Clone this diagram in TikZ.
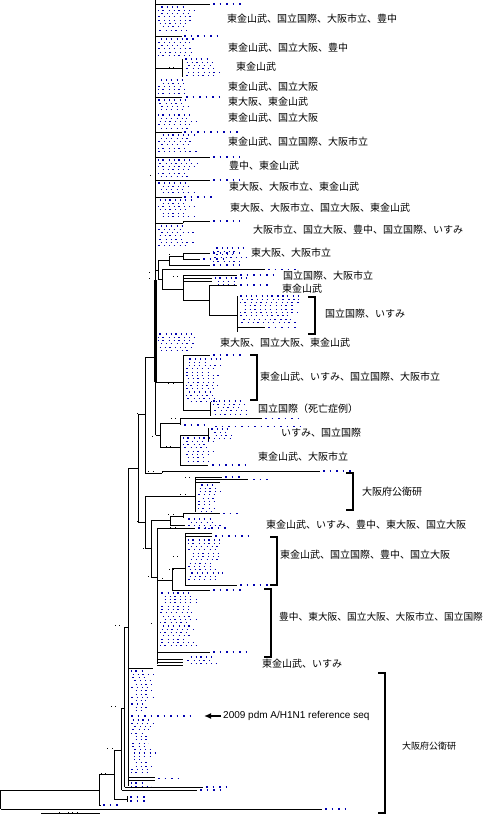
\documentclass[tikz,border=0pt]{standalone}
\usepackage{fontspec}
\newfontfamily\jp{Noto Sans CJK JP}
\newfontfamily\lat{Liberation Sans}
\usetikzlibrary{arrows.meta}
\definecolor{seqblue}{RGB}{0,0,175}
\tikzset{
  br/.style={black, line width=1pt},
  seq/.style={seqblue, line width=1.1pt, dash pattern=on 1.2pt off 3.2pt on 1.6pt off 4.6pt on 1.2pt off 3.8pt},
  dotr/.style={seqblue, line width=1.1pt, dash pattern=on 1.5pt off 5pt},
  lab/.style={font=\jp\fontsize{10}{12}\selectfont, anchor=west, inner sep=0pt},
  brk/.style={black, line width=1.4pt},
}
\newcommand\hl[3]{\draw[br] (#1,#3) -- (#2,#3);}
\newcommand\vl[3]{\draw[br] (#1,#2) -- (#1,#3);}
\newcommand\drow[3]{\draw[dotr] (#1,#3) -- (#2,#3);}
\newcommand\bdot[2]{\fill[black] (#1,#2) rectangle ++(1.3,1.3);}
\newcommand\blk[4]{%
  \pgfmathsetmacro\blkstep{#2+3.3}%
  \foreach \yy in {#2,\blkstep,...,#3}{%
    \pgfmathsetmacro\ph{random(0,6)*1.5}%
    \pgfmathsetmacro\ll{#4+random(-7,5)}%
    \draw[seq, dash phase=\ph pt] (#1,\yy) -- ++(\ll,0);
  }}
\newcommand\brkt[3]{\draw[brk] (#1-7,#2) -- (#1,#2) -- (#1,#3) -- (#1-7,#3);}
\begin{document}
\begin{tikzpicture}[x=1pt,y=-1pt]
\pgfmathsetseed{11}
\fill[white] (0,0) rectangle (488,817);
\useasboundingbox (0,0) rectangle (488,817);

% ---------- backbone ----------
\vl{155.5}{0}{435}
\draw[br, line width=2.4pt] (155.5,280) -- (155.5,382);

% ---------- top leaves ----------
\hl{155.5}{210}{4} \drow{213}{245}{4}
\hl{155.5}{182}{36} \drow{184}{218}{36}
\hl{155.5}{182}{68} \vl{182}{59}{77} \blk{185}{59}{77}{32}
\hl{155.5}{182}{97} \drow{186}{220}{97}
\hl{155.5}{182}{132} \drow{184}{240}{132}
\hl{155.5}{210}{157} \drow{213}{240}{157}
\hl{155.5}{210}{180} \drow{213}{240}{180}
\hl{155.5}{182}{197} \drow{184}{215}{197}
\hl{155.5}{183}{223} \vl{183}{221}{223} \hl{183}{210}{221} \drow{213}{240}{221}
\blk{158}{7}{33}{35}
\blk{158}{39}{56}{35}
\blk{158}{80}{94}{32}
\blk{158}{100}{111}{32}
\blk{158}{115}{129}{35}
\blk{158}{135}{154}{35}
\blk{158}{160}{177}{35}
\blk{158}{183}{194}{32}
\blk{158}{200}{217}{32}
\blk{158}{226}{249}{32}

% ---------- middle subtree ----------
\vl{158.3}{260}{279} \hl{155.5}{158.3}{270}
\hl{158.3}{169}{260} \vl{169}{256}{265}
\hl{169}{183}{256} \vl{183}{253}{259}
\hl{183}{210}{253} \drow{213}{240}{253}
\hl{183}{200}{259} \drow{203}{225}{259}
\hl{169}{210}{265} \drow{213}{240}{265}
\blk{213}{248}{262}{28}
\hl{158.3}{162}{279} \vl{162}{269}{289}
\hl{162}{265}{269.5} \drow{268}{300}{269.5}
\hl{162}{183}{289} \vl{183}{275}{300}
\hl{183}{237}{275} \drow{240}{275}{275}
\hl{183}{212}{278} \hl{183}{212}{281}
\blk{215}{278}{286}{28}
\hl{183}{209}{300} \vl{209}{285}{315}
\hl{209}{237}{285} \drow{240}{270}{285}
\hl{209}{237}{315} \vl{237}{296}{332}
\blk{240}{296}{324}{55}
\hl{237}{265}{327.5} \drow{268}{300}{327.5}
\blk{158}{334}{353}{34}

\hl{155.5}{183}{382} \vl{183}{355}{410}
\hl{183}{210}{355} \drow{213}{245}{355}
\blk{186}{359}{405}{30}
\hl{183}{210}{410} \vl{210}{402}{416}
\blk{213}{401}{416}{33}

\hl{155.5}{160}{435} \vl{160}{423}{447}
\hl{160}{180}{423} \vl{180}{418.5}{425}
\hl{180}{262}{418.5} \drow{265}{300}{418.5}
\drow{184}{205}{425}
\hl{160}{180}{447} \vl{180}{435}{465}
\hl{180}{208}{435} \vl{208}{428}{441}
\drow{215}{305}{426.5}
\blk{211}{429}{441}{25}
\hl{180}{208}{465} \drow{212}{245}{465}
\blk{183}{438}{462}{30}

\vl{145}{357}{473} \hl{145}{155.5}{357}
\hl{145}{162}{473} \vl{162}{471}{473}
\hl{162}{320}{471} \drow{323}{352}{471}

% ---------- lower-middle ----------
\vl{138}{414}{522} \hl{138}{145}{414}
\vl{128}{468}{786} \hl{128}{138}{468}
\hl{138}{145}{522} \vl{145}{496}{548}
\hl{145}{195}{496} \vl{195}{477}{512}
\hl{195}{222}{477} \drow{225}{240}{477}
\hl{195}{248}{479.5} \drow{253}{272}{479.5}
\hl{195}{220}{482}
\blk{198}{485}{512}{20}
\hl{145}{151}{548} \vl{151}{520}{577}
\hl{151}{170}{520} \vl{170}{516}{525}
\hl{170}{183}{516} \vl{183}{513.5}{518}
\hl{183}{220}{513.5} \drow{223}{240}{513.5}
\hl{170}{185}{525}
\blk{188}{519}{531}{30}
\hl{151}{157}{577} \vl{157}{528}{664}
\hl{157}{195}{528} \drow{198}{228}{528}
\hl{157}{172}{580} \vl{172}{568}{590}
\hl{172}{185}{568} \vl{185}{533}{585}
\hl{185}{212}{533} \hl{185}{212}{536} \drow{215}{248}{536}
\blk{188}{540}{582}{30}
\hl{185}{237}{585} \drow{240}{275}{585}
\hl{172}{210}{590} \drow{213}{245}{590}
\blk{160}{593}{649}{35}
\hl{157}{210}{652} \drow{213}{248}{652}
\hl{157}{183}{659} \hl{157}{183}{662} \hl{157}{183}{665}
\blk{186}{657}{666}{32}

% ---------- bottom ----------
\hl{128}{153}{668}
\blk{131}{671}{712}{19}
\blk{131}{720}{775}{19}
\drow{131}{196}{716}
\hl{128}{155}{777} \hl{128}{155}{780} \drow{158}{178}{778.5}
\blk{131}{783}{786}{19}
\vl{124.5}{627}{787} \hl{124.5}{128}{627}
\hl{124.5}{203}{787} \drow{206}{226}{787}
\vl{121.7}{708}{790} \hl{121.7}{124.5}{708}
\hl{121.7}{197}{790} \drow{200}{226}{790}
\vl{114}{750}{800} \hl{114}{121.7}{750}
\hl{114}{127}{799} \vl{127}{796}{802}
\drow{130}{148}{797} \drow{130}{148}{801}
\vl{99}{774}{805} \hl{99}{114}{774}
\hl{99}{101}{805} \drow{103}{121}{805}
\hl{0.5}{99}{790} \vl{0.5}{790}{809}
\hl{0.5}{322}{809} \drow{325}{346}{809}
% scale bar
\draw[br] (41,813.5) -- (100,813.5);
\foreach \tx in {59,68,72,77} \draw[black, line width=0.6pt] (\tx,813.5) -- (\tx,811.8);

% ---------- small black marks ----------
\bdot{169}{67}\bdot{173}{67}
\bdot{150}{175}\bdot{149}{272}\bdot{149}{278}\bdot{169}{254}
\bdot{168}{289}\bdot{173}{289}\bdot{173}{276}\bdot{177}{276}
\bdot{195}{300}\bdot{199}{300}
\bdot{168}{383}\bdot{173}{383}\bdot{195}{410}\bdot{199}{410}
\bdot{137}{413}\bdot{152}{436}\bdot{171}{418}\bdot{175}{418}
\bdot{166}{446}\bdot{170}{446}\bdot{148}{471}\bdot{153}{471}
\bdot{185}{477}\bdot{189}{477}\bdot{180}{494}\bdot{185}{494}
\bdot{137}{521}\bdot{143}{548}\bdot{168}{514}\bdot{173}{514}
\bdot{170}{527}\bdot{175}{527}\bdot{148}{576}\bdot{162}{578}
\bdot{169}{569}\bdot{173}{569}\bdot{173}{556}\bdot{177}{556}
\bdot{115}{625}\bdot{119}{625}\bdot{151}{623}
\bdot{111}{706}\bdot{115}{706}\bdot{107}{748}\bdot{112}{748}
\bdot{101}{773}\bdot{105}{773}

% ---------- brackets ----------
\brkt{315}{297}{334}
\brkt{257}{355}{400}
\brkt{353}{473}{510}
\brkt{277}{537}{585}
\brkt{271}{589}{657}
\brkt{385}{673}{813}

% ---------- labels ----------
\node[lab] (l1) at (227,19) {東金山武、国立国際、大阪市立、豊中};
\node[lab] (l2) at (228,48) {東金山武、国立大阪、豊中};
\node[lab] (l3) at (236,67) {東金山武};
\node[lab] (l4) at (228,86.5) {東金山武、国立大阪};
\node[lab] (l5) at (228,101.5) {東大阪、東金山武};
\node[lab] (l6) at (228,118) {東金山武、国立大阪};
\node[lab] (l7) at (228,141.5) {東金山武、国立国際、大阪市立};
\node[lab] (l8) at (229,166) {豊中、東金山武};
\node[lab] (l9) at (229,186.5) {東大阪、大阪市立、東金山武};
\node[lab] (l10) at (230,207.5) {東大阪、大阪市立、国立大阪、東金山武};
\node[lab] (l11) at (253,230) {大阪市立、国立大阪、豊中、国立国際、いすみ};
\node[lab] (l12) at (251,253) {東大阪、大阪市立};
\node[lab] (l13) at (283,275.5) {国立国際、大阪市立};
\node[lab] (l14) at (282,289) {東金山武};
\node[lab] (l15) at (325,313.5) {国立国際、いすみ};
\node[lab] (l16) at (220,343) {東大阪、国立大阪、東金山武};
\node[lab] (l17) at (260,377) {東金山武、いすみ、国立国際、大阪市立};
\node[lab] (l18) at (258,408.5) {国立国際（死亡症例）};
\node[lab] (l19) at (281,432.5) {いすみ、国立国際};
\node[lab] (l20) at (258,457) {東金山武、大阪市立};
\node[lab] (l21) at (362,492) {大阪府公衛研};
\node[lab] (l22) at (266,525) {東金山武、いすみ、豊中、東大阪、国立大阪};
\node[lab] (l23) at (280,555) {東金山武、国立国際、豊中、国立大阪};
\node[lab, font=\jp\fontsize{9.7}{12}\selectfont] (l24) at (279,616.5) {豊中、東大阪、国立大阪、大阪市立、国立国際};
\node[lab] (l25) at (262,663.5) {東金山武、いすみ};
\node[lab, font=\jp\fontsize{9}{11}\selectfont] (l26) at (402,746) {大阪府公衛研};
\node[anchor=west, inner sep=0pt, font=\lat\fontsize{10}{12}\selectfont] (ref) at (223,716) {2009 pdm A/H1N1 reference seq};
\draw[-{Latex[length=7pt,width=6pt]}, line width=1.8pt] (ref.west) ++(-2,0) -- (204,716);
\end{tikzpicture}
\end{document}
